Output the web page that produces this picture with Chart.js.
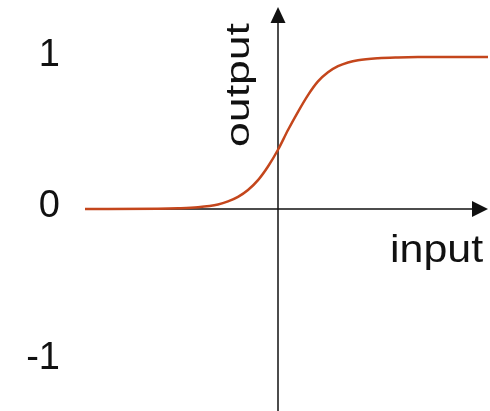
<!DOCTYPE html>
<html>
<head>
<meta charset="utf-8">
<script src="https://cdn.jsdelivr.net/npm/chart.js@4"></script>
<style>
  html, body { margin: 0; padding: 0; background: #fff; }
  #wrap { width: 490px; height: 411px; }
</style>
</head>
<body>
<div id="wrap"><canvas id="sigmoidChart"></canvas></div>
<script>
// valores
const inputValues  = [-9.65, -6, -5, -4, -3, -2.5, -2, -1.5, -1, -0.5, 0, 0.5, 1, 1.5, 2, 2.5, 3, 3.5, 4, 5, 6, 7, 10.5];
const outputValues = [0, 0.002, 0.005, 0.012, 0.03, 0.05, 0.08, 0.125, 0.19, 0.28, 0.39, 0.52, 0.64, 0.75, 0.84, 0.9, 0.94, 0.965, 0.98, 0.993, 0.998, 1, 1];
const outputTicks = [-1, 0, 1];
const inputRange = [-9.65, 10.5];
const outputRange = [-1.33, 1.33];
const inputLabel = 'input';
const outputLabel = 'output';

const fuente = '"Liberation Sans", Arial, sans-serif';

// ejes con flecha que cruzan en el origen
const ejesConFlecha = {
    id: 'ejesConFlecha',
    beforeDatasetsDraw(chart) {
        const ctx = chart.ctx;
        const area = chart.chartArea;
        const x0 = chart.scales.x.getPixelForValue(0);
        const y0 = chart.scales.y.getPixelForValue(0);
        ctx.save();
        ctx.strokeStyle = '#111';
        ctx.fillStyle = '#111';
        ctx.lineWidth = 1.5;

        // eje vertical
        ctx.beginPath();
        ctx.moveTo(x0, chart.height);
        ctx.lineTo(x0, area.top + 12);
        ctx.stroke();
        ctx.beginPath();
        ctx.moveTo(x0, area.top);
        ctx.lineTo(x0 - 7.5, area.top + 16);
        ctx.lineTo(x0 + 7.5, area.top + 16);
        ctx.closePath();
        ctx.fill();

        // eje horizontal
        ctx.beginPath();
        ctx.moveTo(area.left, y0);
        ctx.lineTo(area.right - 12, y0);
        ctx.stroke();
        ctx.beginPath();
        ctx.moveTo(area.right, y0);
        ctx.lineTo(area.right - 16, y0 - 8);
        ctx.lineTo(area.right - 16, y0 + 8);
        ctx.closePath();
        ctx.fill();
        ctx.restore();
    },
    afterDraw(chart) {
        const ctx = chart.ctx;
        const x0 = chart.scales.x.getPixelForValue(0);
        const y0 = chart.scales.y.getPixelForValue(0);
        ctx.save();
        ctx.fillStyle = '#111';

        // titulo vertical
        ctx.save();
        ctx.translate(x0 - 29, y0 - 124);
        ctx.rotate(-Math.PI / 2);
        ctx.scale(1.31, 1);
        ctx.font = '34px ' + fuente;
        ctx.textAlign = 'center';
        ctx.textBaseline = 'alphabetic';
        ctx.fillText(outputLabel, 0, 0);
        ctx.restore();

        // titulo horizontal
        ctx.save();
        ctx.translate(x0 + 112, y0 + 53);
        ctx.scale(1.13, 1);
        ctx.font = '38px ' + fuente;
        ctx.textAlign = 'left';
        ctx.textBaseline = 'alphabetic';
        ctx.fillText(inputLabel, 0, 0);
        ctx.restore();

        ctx.restore();
    }
};

const ctx = document.getElementById('sigmoidChart').getContext('2d');
const sigmoidChart = new Chart(ctx, {
    type: 'scatter',
    data: {
        datasets: [{
            data: inputValues.map((v, i) => ({ x: v, y: outputValues[i] })),
            showLine: true,
            borderColor: '#c4461c',
            borderWidth: 2.5,
            pointRadius: 0,
            cubicInterpolationMode: 'monotone',
            fill: false
        }]
    },
    options: {
        responsive: true,
        maintainAspectRatio: false,
        animation: false,
        devicePixelRatio: 1,
        layout: {
            padding: { top: 7, right: 2, bottom: 0, left: 0 }
        },
        plugins: {
            legend: { display: false },
            tooltip: { enabled: false }
        },
        scales: {
            x: {
                type: 'linear',
                display: false,
                min: inputRange[0],
                max: inputRange[1]
            },
            y: {
                type: 'linear',
                min: outputRange[0],
                max: outputRange[1],
                afterBuildTicks: (scale) => {
                    scale.ticks = outputTicks.map(v => ({ value: v }));
                },
                afterFit: (scale) => {
                    scale.width = 85;
                    scale.paddingTop = 0;
                    scale.paddingBottom = 0;
                },
                grid: { display: false, drawTicks: false },
                border: { display: false },
                ticks: {
                    color: '#111',
                    padding: 25,
                    labelOffset: -2,
                    font: { family: fuente, size: 38 },
                    callback: (value) => String(value)
                }
            }
        }
    },
    plugins: [ejesConFlecha]
});
</script>
</body>
</html>
